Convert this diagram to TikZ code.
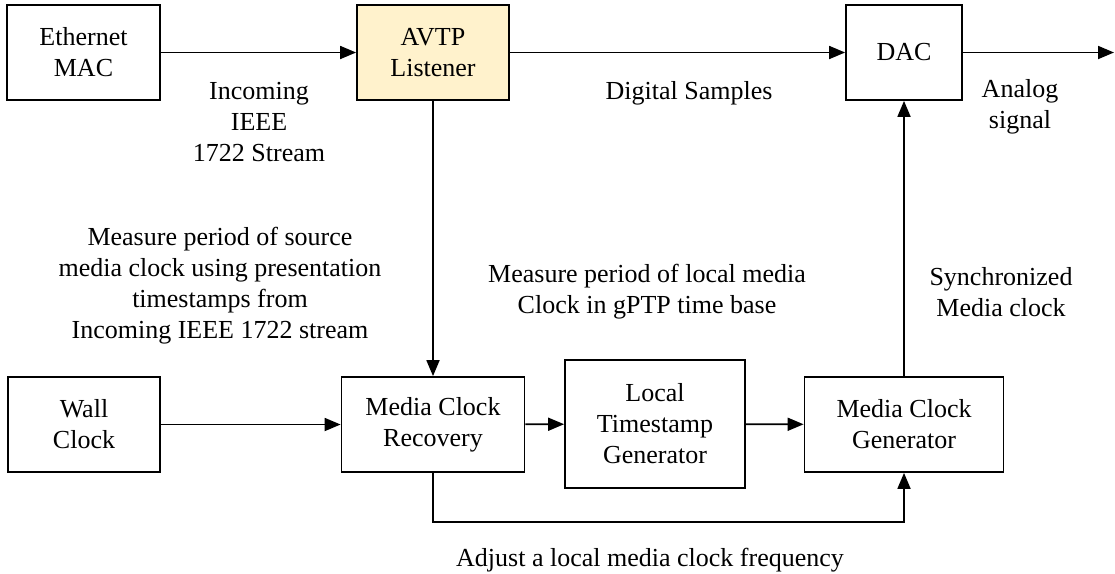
\documentclass[tikz,border=0pt]{standalone}
\usepackage{fontspec}
\setmainfont{Liberation Serif}
\usetikzlibrary{arrows.meta}
\definecolor{listenerfill}{HTML}{FFF2CC}
\begin{document}
\begin{tikzpicture}[x=1pt,y=1pt,
  font=\fontsize{26}{31}\selectfont,
  block/.style={draw=black, line width=1.8pt, align=center, inner sep=0pt, fill=white},
  lbl/.style={align=center, inner sep=0pt},
  flow/.style={line width=1.8pt, -{Triangle[length=16pt,width=13pt]}}]
\useasboundingbox (0,0) rectangle (1115,-573);

% processing blocks
\node[block, minimum width=153pt, minimum height=95pt] (eth) at (83.5,-52.5) {Ethernet\\MAC};
\node[block, fill=listenerfill, minimum width=152pt, minimum height=95pt] (avtp) at (433,-52.5) {AVTP\\Listener};
\node[block, minimum width=116pt, minimum height=95pt] (dac) at (904,-52.5) {DAC};
\node[block, minimum width=152pt, minimum height=95pt] (wall) at (84,-424.5) {Wall\\Clock};
\node[block, minimum width=183pt, minimum height=95pt] (mcr) at (433,-424.5) {Media Clock\\Recovery};
\node[block, minimum width=180pt, minimum height=128pt] (ltg) at (655,-424) {Local\\Timestamp\\Generator};
\node[block, minimum width=199pt, minimum height=95pt] (mcg) at (904,-424.5) {Media Clock\\Generator};
\coordinate (out) at (1114,-52.5);
\coordinate (fbl) at (433,-522);
\coordinate (fbr) at (904,-522);

% signal flow
\draw[flow] (eth) -- (avtp);
\draw[flow] (avtp) -- (dac);
\draw[flow] (dac) -- (out);
\draw[flow] (avtp.south) -- (mcr.north);
\draw[flow] (wall) -- (mcr);
\draw[flow] (mcr) -- (ltg);
\draw[flow] (ltg) -- (mcg);
\draw[flow] (mcg.north) -- (dac.south);
\draw[flow] (mcr.south) -- (fbl) -- (fbr) -- (mcg.south);

% annotations
\node[lbl] (l1) at (259,-122) {Incoming\\IEEE\\1722 Stream};
\node[lbl] (l2) at (689,-93) {Digital Samples};
\node[lbl] (l3) at (1020,-107) {Analog\\signal};
\node[lbl] (l4) at (220,-286) {Measure period of source\\media clock using presentation\\timestamps from\\Incoming IEEE 1722 stream};
\node[lbl] (l5) at (647,-292) {Measure period of local media\\Clock in gPTP time base};
\node[lbl] (l6) at (1001,-292) {Synchronized\\Media clock};
\node[lbl] (l7) at (650,-560) {Adjust a local media clock frequency};
\end{tikzpicture}
\end{document}
